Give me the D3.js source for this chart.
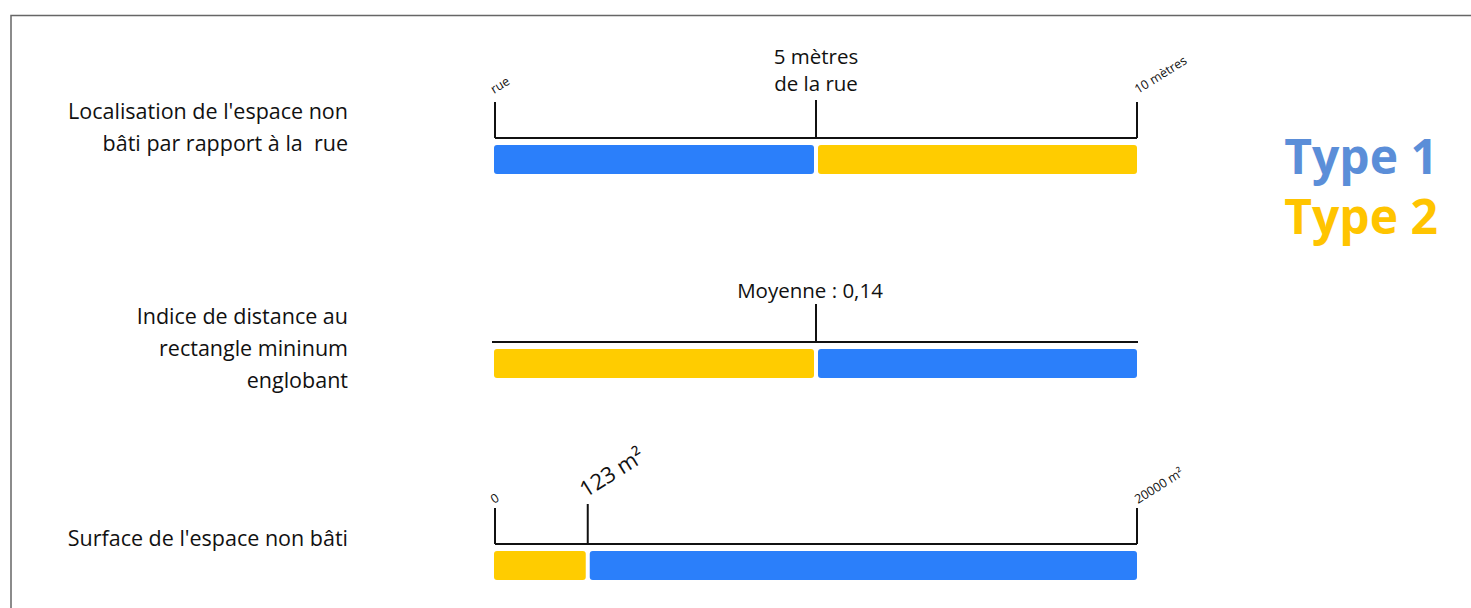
<!DOCTYPE html>
<html>
<head>
<meta charset="utf-8">
<script src="https://cdn.jsdelivr.net/npm/d3@7"></script>
<style>
  body { margin: 0; background: #fff; }
  svg { display: block; font-family: "Open Sans", sans-serif; }
</style>
</head>
<body>
<div id="chart"></div>
<script>
// row titles
var rowLabels = [
    ["Localisation de l'espace non", "bâti par rapport à la  rue"],
    ["Indice de distance au", "rectangle mininum", "englobant"],
    ["Surface de l'espace non bâti"]
]
// domain of each row: [min, split, max]
var rowDomains = [[0, 5, 10], [0, 0.14, 0.28], [0, 123, 20000]]
// which type is left / right of the split
var leftType = ["Type 1", "Type 2", "Type 2"]
var rightType = ["Type 2", "Type 1", "Type 1"]
var splitLabels = [["5 mètres", "de la rue"], ["Moyenne : 0,14"], ["123 m²"]]
var endLabels = [["rue", "10 mètres"], null, ["0", "20000 m²"]]
var types = ["Type 1", "Type 2"]

var width = 1471, height = 608
var barColor = d3.scaleOrdinal().domain(types).range(["#2b7ffa", "#ffcc00"])
var legendColor = d3.scaleOrdinal().domain(types).range(["#5b8ed8", "#ffc400"])

var svg = d3.select("#chart").append("svg")
    .attr("width", width)
    .attr("height", height)

// frame
svg.append("path")
    .attr("d", "M11," + height + "V15.5H" + width)
    .attr("fill", "none")
    .attr("stroke", "#666")
    .attr("stroke-width", 1.5)

var rowY = d3.scaleOrdinal().domain([0, 1, 2]).range([138, 342, 544])
var barH = 29, gap = 4

rowDomains.forEach(function(dom, i){
    var x
    if (i == 2) {
        x = d3.scalePow().exponent(0.38).domain([dom[0], dom[2]]).range([495, 1137])
    } else {
        x = d3.scaleLinear().domain([dom[0], dom[2]]).range([495, 1137])
    }
    var y0 = rowY(i)
    var g = svg.append("g")

    // base line
    g.append("line")
        .attr("x1", x(dom[0]) - (i == 1 ? 3 : 0)).attr("x2", x(dom[2]) + (i == 1 ? 1 : 0))
        .attr("y1", y0).attr("y2", y0)
        .attr("stroke", "#111").attr("stroke-width", 2)

    // ticks
    var ticks = i == 1 ? [dom[1]] : dom
    g.selectAll(".tick").data(ticks).enter()
        .append("line")
        .attr("x1", function(d){ return x(d) }).attr("x2", function(d){ return x(d) })
        .attr("y1", function(d){ return y0 - (d == dom[1] ? (i == 2 ? 40 : 38) : 36) })
        .attr("y2", y0)
        .attr("stroke", "#111").attr("stroke-width", 2)

    // bars
    var segs = [
        { a: dom[0], b: dom[1], t: leftType[i] },
        { a: dom[1], b: dom[2], t: rightType[i] }
    ]
    g.selectAll(".seg").data(segs).enter()
        .append("rect")
        .attr("x", function(d, j){ return x(d.a) + (j == 1 ? gap / 2 : -1) })
        .attr("width", function(d, j){ return x(d.b) - x(d.a) - gap / 2 + (j == 0 ? 1 : 0) })
        .attr("y", y0 + 7)
        .attr("height", barH)
        .attr("rx", 3)
        .attr("fill", function(d){ return barColor(d.t) })

    // split label
    if (i == 2) {
        g.append("text")
            .attr("transform", "translate(" + (x(dom[1]) - 2) + "," + (y0 - 46) + ") rotate(-32)")
            .attr("font-size", 22)
            .attr("fill", "#111")
            .text(splitLabels[i][0])
    } else {
        g.selectAll(".split").data(splitLabels[i]).enter()
            .append("text")
            .attr("x", x(dom[1]) - (i == 1 ? 6 : 0))
            .attr("y", function(d, k){ return (i == 0 ? 64 : 298) + k * 27 })
            .attr("text-anchor", "middle")
            .attr("font-size", i == 0 ? 20.5 : 20.5)
            .attr("fill", "#111")
            .text(function(d){ return d })
    }

    // end labels
    if (endLabels[i]) {
        g.selectAll(".end").data(endLabels[i]).enter()
            .append("text")
            .attr("transform", function(d, k){
                var px = k == 0 ? x(dom[0]) - 1 : x(dom[2]) + 1
                return "translate(" + px + "," + (y0 - (i == 0 ? 44 : 40)) + ") rotate(-32)"
            })
            .attr("font-size", 12.5)
            .attr("fill", "#111")
            .text(function(d){ return d })
    }

    // row title
    var lines = rowLabels[i]
    var ty = [111, 316, 538][i]
    g.selectAll(".title").data(lines).enter()
        .append("text")
        .attr("x", 348)
        .attr("y", function(d, k){ return ty + 8 + k * 32 })
        .attr("text-anchor", "end")
        .attr("font-size", 21.5)
        .attr("fill", "#111")
        .attr("xml:space", "preserve")
        .style("white-space", "pre")
        .text(function(d){ return d })
})

// legend
svg.selectAll(".legend").data(types).enter()
    .append("text")
    .attr("x", 1438)
    .attr("y", function(d, i){ return 174 + i * 60 })
    .attr("text-anchor", "end")
    .attr("font-size", 48)
    .attr("font-weight", "bold")
    .attr("fill", function(d){ return legendColor(d) })
    .text(function(d){ return d })
</script>
</body>
</html>
